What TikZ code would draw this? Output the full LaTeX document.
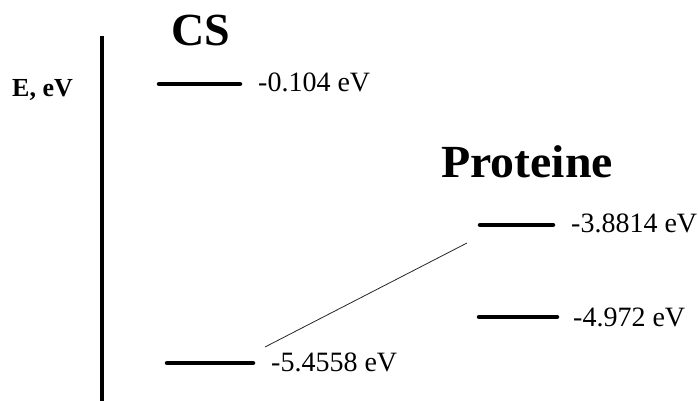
\documentclass[tikz,border=0pt]{standalone}
\usepackage{fontspec}
\setmainfont{Liberation Serif}
\begin{document}
\begin{tikzpicture}[x=1pt,y=-1pt,
  level/.style={line width=4.5pt,line cap=round},
  axisline/.style={line width=4.8pt},
  link/.style={line width=0.8pt,black!85},
  energy/.style={anchor=base west,inner sep=0pt,font=\fontsize{28}{32}\selectfont},
  title/.style={anchor=base west,inner sep=0pt,font=\fontsize{46}{50}\selectfont\bfseries},
  axislabel/.style={anchor=base west,inner sep=0pt,font=\fontsize{26}{30}\selectfont\bfseries}]
\useasboundingbox (0,0) rectangle (698,401);

% energy axis
\coordinate (axtop) at (102,36);
\coordinate (axbot) at (102,405);
\draw[axisline] (axtop) -- (axbot);
\node[axislabel] (elabel) at (12,97) {E, eV};

% titles
\node[title] (cs) at (171,46) {CS};
\node[title,xscale=1.04] (prot) at (441,177) {Proteine};

% CS levels
\coordinate (csAl) at (159,84);  \coordinate (csAr) at (240,84);
\coordinate (csBl) at (167,363); \coordinate (csBr) at (253,363);
\draw[level] (csAl) -- (csAr);
\draw[level] (csBl) -- (csBr);
\node[energy] (eA) at (258,92) {-0.104 eV};
\node[energy] (eB) at (271,371) {-5.4558 eV};

% protein levels
\coordinate (prAl) at (480,225); \coordinate (prAr) at (553,225);
\coordinate (prBl) at (479,317); \coordinate (prBr) at (557,317);
\draw[level] (prAl) -- (prAr);
\draw[level] (prBl) -- (prBr);
\node[energy] (pA) at (571,232) {-3.8814 eV};
\node[energy] (pB) at (573,326) {-4.972 eV};

% transition between the levels
\coordinate (tStart) at (265,347);
\coordinate (tEnd) at (467,243);
\draw[link] (tStart) -- (tEnd);
\end{tikzpicture}
\end{document}
